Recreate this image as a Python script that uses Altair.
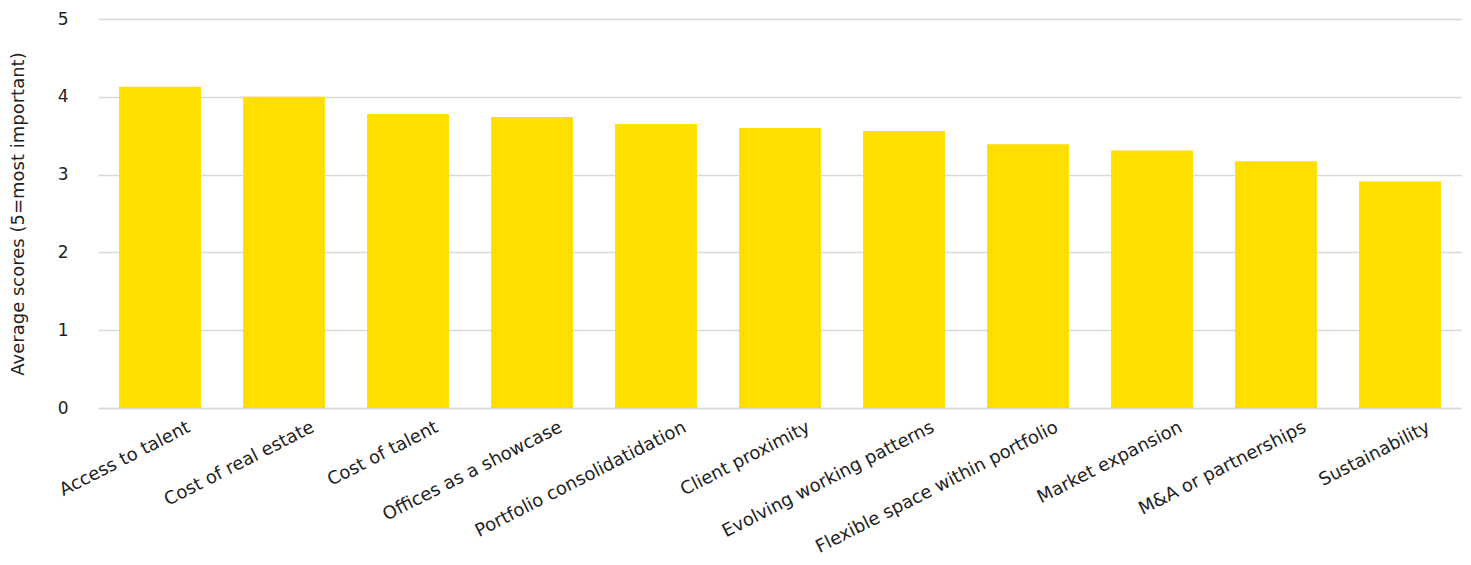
import altair as alt
import pandas as pd

categories = [
    "Access to talent", "Cost of real estate", "Cost of talent",
    "Offices as a showcase", "Portfolio consolidatidation", "Client proximity",
    "Evolving working patterns", "Flexible space within portfolio",
    "Market expansion", "M&A or partnerships", "Sustainability",
]
scores = [4.13, 4.00, 3.78, 3.74, 3.65, 3.60, 3.56, 3.39, 3.31, 3.17, 2.91]
y_ticks = [0, 1, 2, 3, 4, 5]

df = pd.DataFrame({"factor": categories, "score": scores})

FONT = "DejaVu Sans"
TXT = "#222222"
GRID = "#d9d9d9"

chart = (
    alt.Chart(df)
    .mark_bar(color="#FFDF00")
    .encode(
        x=alt.X(
            "factor:N",
            sort=categories,
            title=None,
            scale=alt.Scale(paddingInner=0.34, paddingOuter=0.17),
            axis=alt.Axis(
                labelAngle=-27,
                labelAlign="right",
                labelBaseline="top",
                labelOffset=25,
                labelPadding=10,
                labelFontSize=18,
                labelFont=FONT,
                labelColor=TXT,
                labelLimit=0,
                ticks=False,
                domainColor=GRID,
                domainWidth=1.5,
                grid=False,
                labelOverlap=False,
            ),
        ),
        y=alt.Y(
            "score:Q",
            title="Average scores (5=most important)",
            scale=alt.Scale(domain=[0, 5], nice=False),
            axis=alt.Axis(
                values=y_ticks,
                format="d",
                domain=False,
                ticks=False,
                labelPadding=30,
                labelFontSize=17,
                labelFont=FONT,
                labelColor=TXT,
                titleFont=FONT,
                titleFontSize=18,
                titleFontWeight="normal",
                titleColor=TXT,
                titlePadding=30,
                gridColor=GRID,
                gridWidth=1.5,
            ),
        ),
    )
    .properties(
        width=1364,
        height=389,
        autosize=alt.AutoSizeParams(type="none"),
        padding={"left": 90, "top": 11, "right": 0, "bottom": 150},
    )
    .configure_view(stroke=None)
)

chart.save("out.html", embed_options={"renderer": "svg", "actions": False})
